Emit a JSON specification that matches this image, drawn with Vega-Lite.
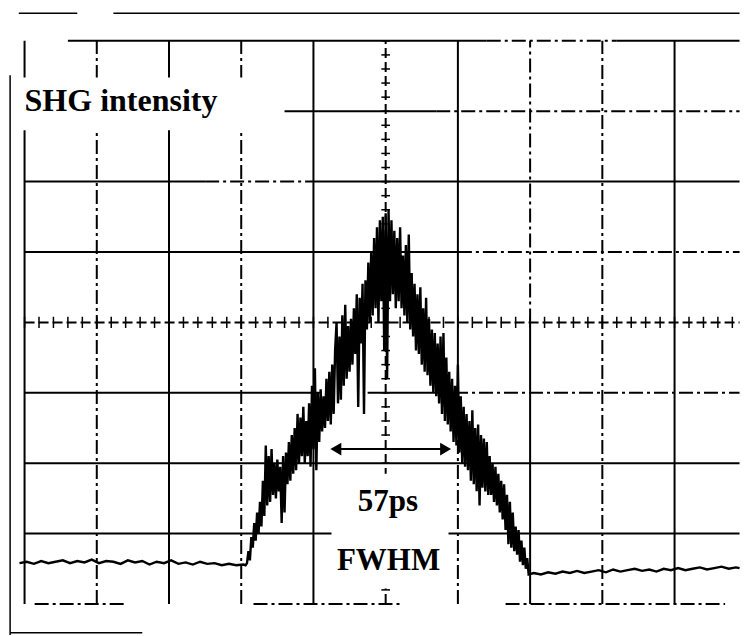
{
"$schema": "https://vega.github.io/schema/vega-lite/v6.json",
"width": 745, "height": 636, "padding": 0,
"autosize": {"type": "fit", "contains": "padding"},
"background": "white",
"config": {"view": {"stroke": null}, "axis": {"disable": true}},
"datasets": {
"grid": [
{"x":0,"x2":0,"y":0,"y2":8,"kind":"solid"},
{"x":1,"x2":1,"y":0,"y2":8,"kind":"dashdot"},
{"x":2,"x2":2,"y":0,"y2":8,"kind":"solid"},
{"x":3,"x2":3,"y":0,"y2":8,"kind":"dashdot"},
{"x":4,"x2":4,"y":0,"y2":8,"kind":"solid"},
{"x":5,"x2":5,"y":0,"y2":8,"kind":"center"},
{"x":6,"x2":6,"y":3.2,"y2":8,"kind":"solid"},
{"x":6,"x2":6,"y":0,"y2":3.2,"kind":"dashdot"},
{"x":7,"x2":7,"y":4,"y2":8,"kind":"dashdot"},
{"x":7,"x2":7,"y":0,"y2":4,"kind":"solid"},
{"x":8,"x2":8,"y":0,"y2":8,"kind":"dashdot"},
{"x":9,"x2":9,"y":0,"y2":8,"kind":"solid"},
{"x":0.6,"x2":6.4,"y":8,"y2":8,"kind":"solid"},
{"x":6.4,"x2":8.2,"y":8,"y2":8,"kind":"dashdot"},
{"x":8.2,"x2":9.9,"y":8,"y2":8,"kind":"solid"},
{"x":3.6,"x2":5.7,"y":7,"y2":7,"kind":"solid"},
{"x":5.7,"x2":9.9,"y":7,"y2":7,"kind":"dashdot"},
{"x":0,"x2":2.5,"y":6,"y2":6,"kind":"solid"},
{"x":2.5,"x2":4,"y":6,"y2":6,"kind":"dashdot"},
{"x":4,"x2":9.9,"y":6,"y2":6,"kind":"solid"},
{"x":0,"x2":6,"y":5,"y2":5,"kind":"solid"},
{"x":6,"x2":9.9,"y":5,"y2":5,"kind":"dashdot"},
{"x":0,"x2":9.9,"y":4,"y2":4,"kind":"center"},
{"x":0,"x2":4.1,"y":3,"y2":3,"kind":"solid"},
{"x":4.75,"x2":5.6,"y":3,"y2":3,"kind":"solid"},
{"x":5.6,"x2":9.9,"y":3,"y2":3,"kind":"dashdot"},
{"x":0,"x2":9.9,"y":2,"y2":2,"kind":"solid"},
{"x":0,"x2":4.25,"y":1,"y2":1,"kind":"solid"},
{"x":5.87,"x2":9.9,"y":1,"y2":1,"kind":"solid"},
{"x":0.14,"x2":1.38,"y":0,"y2":0,"kind":"dashdot"},
{"x":3.17,"x2":5.24,"y":0,"y2":0,"kind":"dashdot"},
{"x":6.66,"x2":9.7,"y":0,"y2":0,"kind":"dashdot"}
],
"hticks": [
{"x":0},{"x":0.2},{"x":0.4},{"x":0.6},{"x":0.8},{"x":1},{"x":1.2},{"x":1.4},{"x":1.6},{"x":1.8},
{"x":2},{"x":2.2},{"x":2.4},{"x":2.6},{"x":2.8},{"x":3},{"x":3.2},{"x":3.4},{"x":3.6},{"x":3.8},
{"x":4},{"x":4.2},{"x":4.4},{"x":4.6},{"x":4.8},{"x":5},{"x":5.2},{"x":5.4},{"x":5.6},{"x":5.8},
{"x":6},{"x":6.2},{"x":6.4},{"x":6.6},{"x":6.8},{"x":7},{"x":7.2},{"x":7.4},{"x":7.6},{"x":7.8},
{"x":8},{"x":8.2},{"x":8.4},{"x":8.6},{"x":8.8},{"x":9},{"x":9.2},{"x":9.4},{"x":9.6},{"x":9.8}
],
"vticks": [
{"y":0},{"y":0.2},{"y":0.4},{"y":0.6},{"y":0.8},{"y":1},{"y":1.2},{"y":1.4},{"y":1.6},{"y":1.8},
{"y":2},{"y":2.2},{"y":2.4},{"y":2.6},{"y":2.8},{"y":3},{"y":3.2},{"y":3.4},{"y":3.6},{"y":3.8},
{"y":4},{"y":4.2},{"y":4.4},{"y":4.6},{"y":4.8},{"y":5},{"y":5.2},{"y":5.4},{"y":5.6},{"y":5.8},
{"y":6},{"y":6.2},{"y":6.4},{"y":6.6},{"y":6.8},{"y":7},{"y":7.2},{"y":7.4},{"y":7.6},{"y":7.8},{"y":8}
],
"frame": [
{"x":-0.08,"x2":0.73,"y":8.39,"y2":8.39},
{"x":1.23,"x2":9.9,"y":8.39,"y2":8.39},
{"x":-0.2,"x2":-0.2,"y":-0.44,"y2":7.51},
{"x":-0.2,"x2":1.63,"y":-0.41,"y2":-0.41}
],
"boxes": [
{"x":-0.15,"x2":3.55,"y":6.73,"y2":7.48},
{"x":4.3,"x2":5.85,"y":0.22,"y2":1.85}
],
"trace": [
{"t":-0.07,"v":0.58},{"t":0.03,"v":0.60},{"t":0.13,"v":0.57},{"t":0.23,"v":0.61},{"t":0.33,"v":0.58},
{"t":0.43,"v":0.60},{"t":0.53,"v":0.62},{"t":0.63,"v":0.58},{"t":0.73,"v":0.61},{"t":0.83,"v":0.59},
{"t":0.93,"v":0.63},{"t":1.03,"v":0.58},{"t":1.13,"v":0.61},{"t":1.23,"v":0.60},{"t":1.33,"v":0.57},
{"t":1.43,"v":0.62},{"t":1.53,"v":0.59},{"t":1.63,"v":0.61},{"t":1.73,"v":0.56},{"t":1.83,"v":0.60},
{"t":1.93,"v":0.58},{"t":2.03,"v":0.62},{"t":2.13,"v":0.57},{"t":2.23,"v":0.59},{"t":2.33,"v":0.56},
{"t":2.43,"v":0.60},{"t":2.53,"v":0.57},{"t":2.63,"v":0.58},{"t":2.73,"v":0.55},{"t":2.83,"v":0.57},
{"t":2.93,"v":0.55},{"t":3.03,"v":0.56},{"t":3.06,"v":0.55},
{"t":3.08,"v":0.58},{"t":3.10,"v":0.75},{"t":3.12,"v":0.62},{"t":3.14,"v":0.95},{"t":3.16,"v":0.80},
{"t":3.18,"v":1.15},{"t":3.20,"v":0.90},{"t":3.22,"v":1.30},{"t":3.24,"v":1.00},{"t":3.26,"v":1.45},
{"t":3.28,"v":1.10},{"t":3.30,"v":1.75},{"t":3.32,"v":1.25},{"t":3.34,"v":2.25},{"t":3.36,"v":1.40},
{"t":3.38,"v":2.10},{"t":3.40,"v":1.45},{"t":3.42,"v":2.20},{"t":3.44,"v":1.55},{"t":3.46,"v":2.00},
{"t":3.48,"v":1.50},{"t":3.50,"v":2.05},{"t":3.52,"v":1.60},{"t":3.54,"v":1.95},{"t":3.56,"v":1.15},
{"t":3.58,"v":2.10},{"t":3.60,"v":1.30},{"t":3.62,"v":2.15},{"t":3.64,"v":1.70},{"t":3.66,"v":2.30},
{"t":3.68,"v":1.75},{"t":3.70,"v":2.40},{"t":3.72,"v":1.85},{"t":3.74,"v":2.50},{"t":3.76,"v":1.90},
{"t":3.78,"v":2.70},{"t":3.80,"v":2.00},{"t":3.82,"v":2.65},{"t":3.84,"v":2.10},{"t":3.86,"v":2.80},
{"t":3.88,"v":2.00},{"t":3.90,"v":2.60},{"t":3.92,"v":2.10},{"t":3.94,"v":2.85},{"t":3.96,"v":1.95},
{"t":3.98,"v":3.10},{"t":4.00,"v":2.20},{"t":4.02,"v":3.35},{"t":4.04,"v":1.90},{"t":4.06,"v":3.00},
{"t":4.08,"v":2.30},{"t":4.10,"v":3.05},{"t":4.12,"v":2.45},{"t":4.14,"v":2.95},{"t":4.16,"v":2.50},
{"t":4.18,"v":3.20},{"t":4.20,"v":2.60},{"t":4.22,"v":3.30},{"t":4.24,"v":2.55},{"t":4.26,"v":3.40},
{"t":4.28,"v":2.70},{"t":4.30,"v":3.60},{"t":4.32,"v":4.00},{"t":4.34,"v":2.85},{"t":4.36,"v":3.80},
{"t":4.38,"v":2.90},{"t":4.40,"v":4.10},{"t":4.42,"v":3.10},{"t":4.44,"v":4.25},{"t":4.46,"v":3.20},
{"t":4.48,"v":3.95},{"t":4.50,"v":3.30},{"t":4.52,"v":4.05},{"t":4.54,"v":3.40},{"t":4.56,"v":4.20},
{"t":4.58,"v":3.55},{"t":4.60,"v":4.40},{"t":4.62,"v":2.80},{"t":4.64,"v":4.35},{"t":4.66,"v":3.70},
{"t":4.68,"v":4.55},{"t":4.70,"v":2.70},{"t":4.72,"v":4.60},{"t":4.74,"v":3.90},{"t":4.76,"v":4.85},
{"t":4.78,"v":4.00},{"t":4.80,"v":5.00},{"t":4.82,"v":4.10},{"t":4.84,"v":5.20},{"t":4.86,"v":4.20},
{"t":4.88,"v":5.35},{"t":4.90,"v":4.00},{"t":4.92,"v":5.45},{"t":4.94,"v":4.30},{"t":4.96,"v":5.50},
{"t":4.98,"v":3.60},{"t":5.00,"v":5.55},{"t":5.02,"v":3.20},{"t":5.04,"v":5.60},{"t":5.06,"v":4.30},
{"t":5.08,"v":5.45},{"t":5.10,"v":4.40},{"t":5.12,"v":5.30},{"t":5.14,"v":4.20},{"t":5.16,"v":5.20},
{"t":5.18,"v":4.30},{"t":5.20,"v":5.35},{"t":5.22,"v":4.20},{"t":5.24,"v":4.95},{"t":5.26,"v":4.10},
{"t":5.28,"v":5.10},{"t":5.30,"v":4.00},{"t":5.32,"v":5.25},{"t":5.34,"v":3.90},{"t":5.36,"v":4.70},
{"t":5.38,"v":3.80},{"t":5.40,"v":4.55},{"t":5.42,"v":3.60},{"t":5.44,"v":4.40},{"t":5.46,"v":3.55},
{"t":5.48,"v":4.50},{"t":5.50,"v":3.40},{"t":5.52,"v":4.20},{"t":5.54,"v":3.30},{"t":5.56,"v":4.35},
{"t":5.58,"v":3.25},{"t":5.60,"v":4.05},{"t":5.62,"v":3.10},{"t":5.64,"v":3.90},{"t":5.66,"v":3.00},
{"t":5.68,"v":3.85},{"t":5.70,"v":2.95},{"t":5.72,"v":3.70},{"t":5.74,"v":2.85},{"t":5.76,"v":3.80},
{"t":5.78,"v":2.70},{"t":5.80,"v":3.85},{"t":5.82,"v":2.60},{"t":5.84,"v":3.50},{"t":5.86,"v":2.55},
{"t":5.88,"v":3.30},{"t":5.90,"v":2.45},{"t":5.92,"v":3.20},{"t":5.94,"v":2.30},{"t":5.96,"v":3.10},
{"t":5.98,"v":2.25},{"t":6.00,"v":3.40},{"t":6.02,"v":2.15},{"t":6.04,"v":2.95},{"t":6.06,"v":2.00},
{"t":6.08,"v":2.80},{"t":6.10,"v":1.95},{"t":6.12,"v":2.70},{"t":6.14,"v":1.90},{"t":6.16,"v":2.60},
{"t":6.18,"v":1.75},{"t":6.20,"v":2.75},{"t":6.22,"v":1.70},{"t":6.24,"v":2.50},{"t":6.26,"v":1.60},
{"t":6.28,"v":2.55},{"t":6.30,"v":1.40},{"t":6.32,"v":2.40},{"t":6.34,"v":1.65},{"t":6.36,"v":2.35},
{"t":6.38,"v":1.60},{"t":6.40,"v":2.30},{"t":6.42,"v":1.55},{"t":6.44,"v":2.10},{"t":6.46,"v":1.55},
{"t":6.48,"v":2.00},{"t":6.50,"v":1.45},{"t":6.52,"v":1.95},{"t":6.54,"v":1.40},{"t":6.56,"v":1.85},
{"t":6.58,"v":1.30},{"t":6.60,"v":1.75},{"t":6.62,"v":1.20},{"t":6.64,"v":1.70},{"t":6.66,"v":1.05},
{"t":6.68,"v":1.55},{"t":6.70,"v":0.85},{"t":6.72,"v":1.45},{"t":6.74,"v":0.80},{"t":6.76,"v":1.30},
{"t":6.78,"v":0.75},{"t":6.80,"v":1.10},{"t":6.82,"v":0.70},{"t":6.84,"v":1.05},{"t":6.86,"v":0.60},
{"t":6.88,"v":0.90},{"t":6.90,"v":0.55},{"t":6.92,"v":0.80},{"t":6.94,"v":0.50},{"t":6.96,"v":0.65},
{"t":6.98,"v":0.42},
{"t":7.05,"v":0.44},{"t":7.15,"v":0.42},{"t":7.25,"v":0.45},{"t":7.35,"v":0.43},{"t":7.45,"v":0.46},
{"t":7.55,"v":0.44},{"t":7.65,"v":0.47},{"t":7.75,"v":0.44},{"t":7.85,"v":0.46},{"t":7.95,"v":0.48},
{"t":8.05,"v":0.45},{"t":8.15,"v":0.49},{"t":8.25,"v":0.46},{"t":8.35,"v":0.48},{"t":8.45,"v":0.50},
{"t":8.55,"v":0.47},{"t":8.65,"v":0.49},{"t":8.75,"v":0.46},{"t":8.85,"v":0.50},{"t":8.95,"v":0.48},
{"t":9.05,"v":0.51},{"t":9.15,"v":0.48},{"t":9.25,"v":0.50},{"t":9.35,"v":0.52},{"t":9.45,"v":0.49},
{"t":9.55,"v":0.51},{"t":9.65,"v":0.53},{"t":9.75,"v":0.50},{"t":9.85,"v":0.52},{"t":9.9,"v":0.51}
],
"arrow": [{"x":4.27,"x2":5.87,"y":2.2}],
"heads": [{"x":4.31,"y":2.2,"dir":"left"},{"x":5.83,"y":2.2,"dir":"right"}],
"title": [{"x":0.0,"y":7.0,"label":"SHG intensity"}],
"notes": [{"x":5.03,"y":1.32,"label":"57ps"},{"x":5.04,"y":0.48,"label":"FWHM"}]
},
"layer": [
{"data": {"name": "grid"},
 "mark": {"type": "rule", "color": "black", "strokeWidth": 2},
 "encoding": {
  "x": {"field": "x", "type": "quantitative", "scale": {"domain": [-0.34, 9.92], "nice": false, "zero": false}},
  "x2": {"field": "x2"},
  "y": {"field": "y", "type": "quantitative", "scale": {"domain": [-0.455, 8.58], "nice": false, "zero": false}},
  "y2": {"field": "y2"},
  "strokeDash": {"field": "kind", "type": "nominal", "legend": null,
   "scale": {"domain": ["solid", "dashdot", "center"], "range": [[1, 0], [14, 4, 3, 4], [10, 4]]}}
 }},
{"data": {"name": "hticks"},
 "mark": {"type": "rule", "color": "black", "strokeWidth": 1.5},
 "encoding": {
  "x": {"field": "x", "type": "quantitative", "scale": {"domain": [-0.34, 9.92], "nice": false, "zero": false}},
  "y": {"datum": 3.92, "type": "quantitative", "scale": {"domain": [-0.455, 8.58], "nice": false, "zero": false}},
  "y2": {"datum": 4.08}
 }},
{"data": {"name": "vticks"},
 "mark": {"type": "rule", "color": "black", "strokeWidth": 1.5},
 "encoding": {
  "y": {"field": "y", "type": "quantitative", "scale": {"domain": [-0.455, 8.58], "nice": false, "zero": false}},
  "x": {"datum": 4.94, "type": "quantitative", "scale": {"domain": [-0.34, 9.92], "nice": false, "zero": false}},
  "x2": {"datum": 5.06}
 }},
{"data": {"name": "frame"},
 "mark": {"type": "rule", "color": "black", "strokeWidth": 1.5},
 "encoding": {
  "x": {"field": "x", "type": "quantitative", "scale": {"domain": [-0.34, 9.92], "nice": false, "zero": false}},
  "x2": {"field": "x2"},
  "y": {"field": "y", "type": "quantitative", "scale": {"domain": [-0.455, 8.58], "nice": false, "zero": false}},
  "y2": {"field": "y2"}
 }},
{"data": {"name": "boxes"},
 "mark": {"type": "rect", "fill": "white"},
 "encoding": {
  "x": {"field": "x", "type": "quantitative", "scale": {"domain": [-0.34, 9.92], "nice": false, "zero": false}},
  "x2": {"field": "x2"},
  "y": {"field": "y", "type": "quantitative", "scale": {"domain": [-0.455, 8.58], "nice": false, "zero": false}},
  "y2": {"field": "y2"}
 }},
{"data": {"name": "trace"},
 "mark": {"type": "line", "color": "black", "strokeWidth": 2.4},
 "encoding": {
  "x": {"field": "t", "type": "quantitative", "scale": {"domain": [-0.34, 9.92], "nice": false, "zero": false}},
  "y": {"field": "v", "type": "quantitative", "scale": {"domain": [-0.455, 8.58], "nice": false, "zero": false}}
 }},
{"data": {"name": "arrow"},
 "mark": {"type": "rule", "color": "black", "strokeWidth": 2},
 "encoding": {
  "x": {"field": "x", "type": "quantitative", "scale": {"domain": [-0.34, 9.92], "nice": false, "zero": false}},
  "x2": {"field": "x2"},
  "y": {"field": "y", "type": "quantitative", "scale": {"domain": [-0.455, 8.58], "nice": false, "zero": false}}
 }},
{"data": {"name": "heads"},
 "mark": {"type": "point", "filled": true, "color": "black", "size": 160, "opacity": 1},
 "encoding": {
  "x": {"field": "x", "type": "quantitative", "scale": {"domain": [-0.34, 9.92], "nice": false, "zero": false}},
  "y": {"field": "y", "type": "quantitative", "scale": {"domain": [-0.455, 8.58], "nice": false, "zero": false}},
  "shape": {"field": "dir", "type": "nominal", "legend": null,
   "scale": {"domain": ["left", "right"], "range": ["triangle-left", "triangle-right"]}}
 }},
{"data": {"name": "title"},
 "mark": {"type": "text", "align": "left", "baseline": "alphabetic", "font": "'Liberation Serif', 'Times New Roman', serif", "fontWeight": "bold", "fontSize": 32, "color": "black"},
 "encoding": {
  "x": {"field": "x", "type": "quantitative", "scale": {"domain": [-0.34, 9.92], "nice": false, "zero": false}},
  "y": {"field": "y", "type": "quantitative", "scale": {"domain": [-0.455, 8.58], "nice": false, "zero": false}},
  "text": {"field": "label"}
 }},
{"data": {"name": "notes"},
 "mark": {"type": "text", "align": "center", "baseline": "alphabetic", "font": "'Liberation Serif', 'Times New Roman', serif", "fontWeight": "bold", "fontSize": 31, "color": "black"},
 "encoding": {
  "x": {"field": "x", "type": "quantitative", "scale": {"domain": [-0.34, 9.92], "nice": false, "zero": false}},
  "y": {"field": "y", "type": "quantitative", "scale": {"domain": [-0.455, 8.58], "nice": false, "zero": false}},
  "text": {"field": "label"}
 }}
]
}
